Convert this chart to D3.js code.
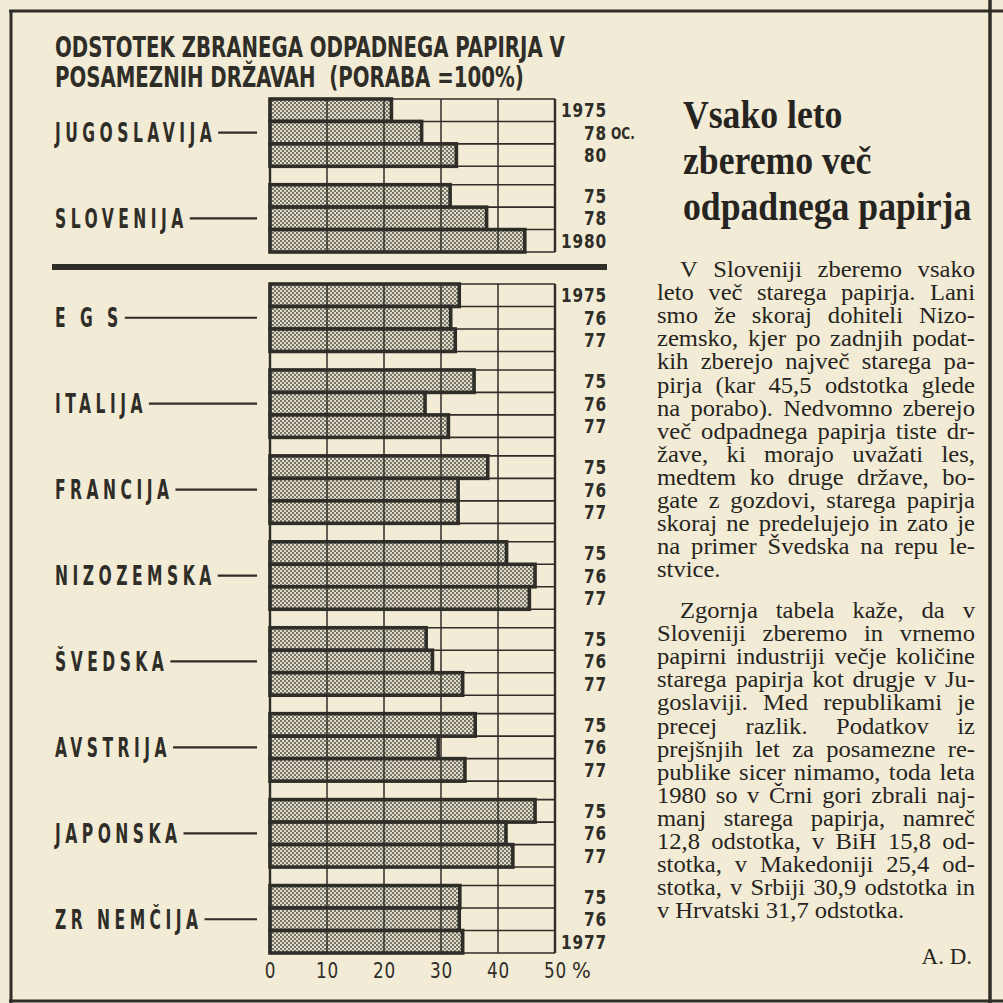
<!DOCTYPE html>
<html>
<head>
<meta charset="utf-8">
<script src="https://cdn.jsdelivr.net/npm/d3@7"></script>
<style>
    html, body { margin: 0; padding: 0; background: #f2ebd5; }
    svg { display: block; }
</style>
</head>
<body>
<div id="chart"></div>
<script>
// chart data
const titleLines = ['ODSTOTEK ZBRANEGA ODPADNEGA PAPIRJA V', 'POSAMEZNIH DRŽAVAH  (PORABA =100%)'];

const topGroups = ['JUGOSLAVIJA', 'SLOVENIJA'];
const topYears = [['1975', '78', '80'], ['75', '78', '1980']];
const topValues = [[21.3, 26.6, 32.7], [31.6, 38.0, 44.7]];

const lowGroups = ['E G S', 'ITALIJA', 'FRANCIJA', 'NIZOZEMSKA', 'ŠVEDSKA', 'AVSTRIJA', 'JAPONSKA', 'ZR NEMČIJA'];
const lowYears = [
    ['1975', '76', '77'], ['75', '76', '77'], ['75', '76', '77'], ['75', '76', '77'],
    ['75', '76', '77'], ['75', '76', '77'], ['75', '76', '77'], ['75', '76', '1977']
];
const lowValues = [
    [33.2, 31.7, 32.5],
    [35.8, 27.2, 31.3],
    [38.2, 33.0, 33.0],
    [41.5, 46.5, 45.5],
    [27.4, 28.5, 33.8],
    [36.0, 29.5, 34.2],
    [46.5, 41.4, 42.6],
    [33.3, 33.2, 33.8]
];

const xTicks = [0, 10, 20, 30, 40, 50];
const estimateNote = { group: 'JUGOSLAVIJA', row: 1, text: 'OC.' }; // "78 oc." = ocena

const headline = ['Vsako leto', 'zberemo več', 'odpadnega papirja'];
const paragraphs = [
    [
        'V Sloveniji zberemo vsako',
        'leto več starega papirja. Lani',
        'smo že skoraj dohiteli Nizo-',
        'zemsko, kjer po zadnjih podat-',
        'kih zberejo največ starega pa-',
        'pirja (kar 45,5 odstotka glede',
        'na porabo). Nedvomno zberejo',
        'več odpadnega papirja tiste dr-',
        'žave, ki morajo uvažati les,',
        'medtem ko druge države, bo-',
        'gate z gozdovi, starega papirja',
        'skoraj ne predelujejo in zato je',
        'na primer Švedska na repu le-',
        'stvice.'
    ],
    [
        'Zgornja tabela kaže, da v',
        'Sloveniji zberemo in vrnemo',
        'papirni industriji večje količine',
        'starega papirja kot drugje v Ju-',
        'goslaviji. Med republikami je',
        'precej razlik. Podatkov iz',
        'prejšnjih let za posamezne re-',
        'publike sicer nimamo, toda leta',
        '1980 so v Črni gori zbrali naj-',
        'manj starega papirja, namreč',
        '12,8 odstotka, v BiH 15,8 od-',
        'stotka, v Makedoniji 25,4 od-',
        'stotka, v Srbiji 30,9 odstotka in',
        'v Hrvatski 31,7 odstotka.'
    ]
];
const signature = 'A. D.';

const W = 1003, H = 1003;
const paper = '#f2ebd5';
const ink = '#2f2d28';
const stencil = "'DejaVu Sans Condensed', 'DejaVu Sans', sans-serif";
const serif = "'Liberation Serif', 'DejaVu Serif', serif";

const svg = d3.select('#chart').append('svg')
    .attr('width', W)
    .attr('height', H);

svg.append('rect').attr('width', W).attr('height', H).attr('fill', paper);

// halftone stipple for the bars
const defs = svg.append('defs');
const pat = defs.append('pattern')
    .attr('id', 'dots')
    .attr('width', 4).attr('height', 4)
    .attr('patternUnits', 'userSpaceOnUse');
pat.append('rect').attr('width', 4).attr('height', 4).attr('fill', '#e0dac8');
pat.append('circle').attr('cx', 1).attr('cy', 1).attr('r', 0.9).attr('fill', '#46433c');
pat.append('circle').attr('cx', 3).attr('cy', 3).attr('r', 0.9).attr('fill', '#46433c');

// frame of the clipping
const frame = svg.append('g').attr('stroke', ink).attr('stroke-width', 3);
frame.append('line').attr('x1', 11).attr('x2', 11).attr('y1', 10).attr('y2', H);
frame.append('line').attr('x1', 9).attr('x2', W).attr('y1', 11).attr('y2', 11);
frame.append('line').attr('x1', 990).attr('x2', 990).attr('y1', 0).attr('y2', H).attr('stroke-width', 3.5);
frame.append('line').attr('x1', 9).attr('x2', W).attr('y1', 1001).attr('y2', 1001);

// chart title: one text, two lines, squeezed to the stencil width
const title = svg.append('text')
    .attr('font-family', stencil)
    .attr('font-weight', 'bold')
    .attr('font-size', 29)
    .attr('fill', ink)
    .style('white-space', 'pre');
title.selectAll('tspan').data(titleLines).join('tspan')
    .attr('x', 0)
    .attr('y', (d, i) => i * 30)
    .text(d => d);
const titleW = title.select('tspan').node().getComputedTextLength();
title.attr('transform', `translate(55,57) scale(${510 / titleW},1)`);

const x = d3.scaleLinear().domain([0, 50]).range([270, 555]);

function drawBlock(groups, years, values, range) {
    const gy = d3.scaleBand().domain(groups).range(range).paddingInner(0.215);
    const ry = d3.scaleBand().domain(d3.range(3)).range([0, gy.bandwidth()]);
    const g = svg.append('g');

    const rows = groups.flatMap((c, gi) => values[gi].map((v, i) => ({
        group: c, row: i, value: v, year: years[gi][i], y: gy(c) + ry(i)
    })));

    // horizontal row lines
    const lineYs = groups.flatMap(c => d3.range(4).map(k => gy(c) + k * ry.step()));
    g.selectAll('line.h').data(lineYs).join('line')
        .attr('class', 'h')
        .attr('x1', x(0)).attr('x2', x(50))
        .attr('y1', d => d).attr('y2', d => d)
        .attr('stroke', ink).attr('stroke-width', 1.6);

    // bars
    g.selectAll('rect.bar').data(rows).join('rect')
        .attr('class', 'bar')
        .attr('x', x(0))
        .attr('y', d => d.y)
        .attr('width', d => x(d.value) - x(0))
        .attr('height', ry.bandwidth())
        .attr('fill', 'url(#dots)')
        .attr('stroke', ink)
        .attr('stroke-width', 3.6);

    // vertical grid, shows through the bars
    g.selectAll('line.v').data(xTicks).join('line')
        .attr('class', 'v')
        .attr('x1', d => x(d)).attr('x2', d => x(d))
        .attr('y1', range[0]).attr('y2', range[1])
        .attr('stroke', ink)
        .attr('stroke-width', d => (d === 0 || d === 50) ? 2.4 : 1.5);

    // year labels
    g.selectAll('text.year').data(rows).join('text')
        .attr('class', 'year')
        .attr('transform', d => `translate(607,${d.y + ry.bandwidth() / 2}) scale(0.85,1)`)
        .attr('text-anchor', 'end')
        .attr('dominant-baseline', 'central')
        .attr('font-family', stencil)
        .attr('font-weight', 'bold')
        .attr('font-size', 20)
        .attr('letter-spacing', 1)
        .attr('fill', ink)
        .text(d => d.year);

    // country labels with leader dash
    const labels = g.selectAll('g.lab').data(groups).join('g')
        .attr('class', 'lab')
        .attr('transform', d => `translate(55,${gy(d) + gy.bandwidth() / 2})`);
    const sx = 0.64;
    labels.append('text')
        .attr('transform', `scale(${sx},1)`)
        .attr('dominant-baseline', 'central')
        .attr('font-family', stencil)
        .attr('font-weight', 'bold')
        .attr('font-size', 27)
        .attr('letter-spacing', 7)
        .attr('fill', ink)
        .style('white-space', 'pre')
        .text(d => d);
    labels.each(function () {
        const len = d3.select(this).select('text').node().getComputedTextLength() * sx;
        d3.select(this).append('line')
            .attr('x1', len + 2).attr('x2', 257 - 55)
            .attr('y1', 0).attr('y2', 0)
            .attr('stroke', ink).attr('stroke-width', 2.2);
    });

    return { gy, ry };
}

const topBlock = drawBlock(topGroups, topYears, topValues, [99, 252]);
drawBlock(lowGroups, lowYears, lowValues, [284, 953]);

// "oc." note next to the estimated year
const noteY = topBlock.gy(estimateNote.group) + topBlock.ry(estimateNote.row) + topBlock.ry.bandwidth() / 2 + 1;
svg.append('text')
    .attr('transform', `translate(611,${noteY}) scale(0.9,1)`)
    .attr('dominant-baseline', 'central')
    .attr('font-family', stencil)
    .attr('font-weight', 'bold')
    .attr('font-size', 15)
    .attr('fill', ink)
    .text(estimateNote.text);

// thick rule between Yugoslavia and the other countries
svg.append('line')
    .attr('x1', 52).attr('x2', 607)
    .attr('y1', 267).attr('y2', 267)
    .attr('stroke', ink).attr('stroke-width', 6);

// x axis
const axis = svg.append('g')
    .attr('transform', 'translate(0,953)')
    .call(d3.axisBottom(x).tickValues(xTicks).tickSize(0).tickPadding(9).tickFormat(d3.format('d')));
axis.select('.domain').remove();
axis.selectAll('text')
    .attr('font-family', stencil)
    .attr('font-size', 22)
    .attr('fill', ink)
    .attr('letter-spacing', 1)
    .attr('transform', 'scale(0.85,1)');
svg.append('text')
    .attr('x', x(50) + 17)
    .attr('y', 978)
    .attr('font-family', stencil)
    .attr('font-size', 22)
    .attr('fill', ink)
    .text('%');

// article column
const col = svg.append('g').attr('fill', '#262420');
const headLeft = 683;
const colLeft = 657, colRight = 975, indent = 23;

col.selectAll('text.head').data(headline).join('text')
    .attr('class', 'head')
    .attr('transform', (d, i) => `translate(${headLeft},${128 + i * 46}) scale(0.87,1)`)
    .attr('font-family', serif)
    .attr('font-weight', 'bold')
    .attr('font-size', 41)
    .text(d => d);

// justified body text, word by word
const bodyScale = 1.07;
function setLine(lineText, y, first, last) {
    const x0 = colLeft + (first ? indent : 0);
    const t = col.append('text')
        .attr('transform', `translate(${x0},${y}) scale(${bodyScale},1)`)
        .attr('font-family', serif)
        .attr('font-size', 23);
    const words = lineText.split(' ');
    const spans = words.map(w => t.append('tspan').text(w));
    const widths = spans.map(s => s.node().getComputedTextLength());
    const avail = (colRight - x0) / bodyScale;
    const gap = last ? 5.5 : (avail - d3.sum(widths)) / Math.max(1, words.length - 1);
    let cx = 0;
    spans.forEach((s, i) => {
        s.attr('x', cx);
        cx += widths[i] + gap;
    });
}

const paraTop = [277, 618];
const lineH = 23.1;
paragraphs.forEach((p, pi) => {
    p.forEach((line, li) => setLine(line, paraTop[pi] + li * lineH, li === 0, li === p.length - 1));
});

col.append('text')
    .attr('x', 972)
    .attr('y', 964)
    .attr('text-anchor', 'end')
    .attr('font-family', serif)
    .attr('font-size', 23)
    .text(signature);
</script>
</body>
</html>
